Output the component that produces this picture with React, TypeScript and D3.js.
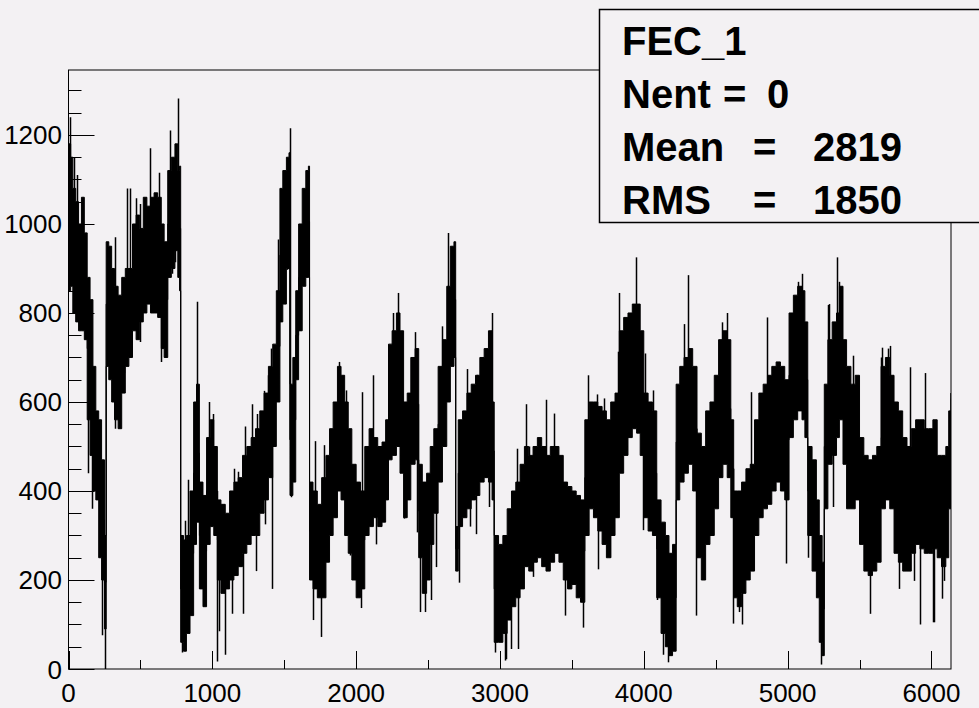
import * as d3 from 'd3';
import React, { useEffect, useRef } from 'react';

// channel position (bin) and the low / high edge of the trace
const binX = [
	0, 15, 30, 50, 70, 90, 110, 130, 150, 170, 190, 210, 230, 250, 262, 280, 300, 320, 345, 370,
	395, 420, 445, 470, 495, 520, 545, 570, 595, 620, 645, 665, 690, 715, 740, 760, 772, 780, 800, 820,
	845, 870, 890, 910, 935, 960, 985, 1010, 1035, 1060, 1090, 1120, 1150, 1180, 1210, 1240, 1270, 1300, 1330, 1360,
	1390, 1420, 1445, 1470, 1490, 1515, 1533, 1540, 1560, 1580, 1600, 1625, 1650, 1668, 1676, 1700, 1730, 1760, 1790, 1815,
	1840, 1870, 1895, 1920, 1945, 1970, 2000, 2030, 2060, 2090, 2120, 2150, 2180, 2205, 2225, 2250, 2280, 2305, 2330, 2355,
	2380, 2410, 2435, 2460, 2490, 2515, 2540, 2570, 2600, 2630, 2655, 2680, 2692, 2710, 2740, 2770, 2800, 2830, 2860, 2890,
	2920, 2945, 2960, 2990, 3020, 3050, 3080, 3110, 3140, 3170, 3200, 3230, 3260, 3290, 3320, 3350, 3380, 3410, 3440, 3470,
	3500, 3530, 3560, 3590, 3620, 3650, 3680, 3710, 3740, 3770, 3800, 3830, 3860, 3890, 3920, 3950, 3975, 4000, 4030, 4060,
	4090, 4120, 4150, 4175, 4200, 4225, 4250, 4280, 4310, 4340, 4370, 4400, 4430, 4460, 4490, 4520, 4550, 4580, 4605, 4625,
	4650, 4680, 4710, 4740, 4770, 4800, 4830, 4860, 4890, 4920, 4950, 4980, 5010, 5040, 5070, 5100, 5120, 5140, 5170, 5200,
	5220, 5240, 5255, 5280, 5310, 5340, 5360, 5385, 5410, 5440, 5470, 5500, 5530, 5560, 5590, 5620, 5650, 5680, 5710, 5740,
	5770, 5800, 5830, 5860, 5890, 5920, 5950, 5980, 6010, 6040, 6070, 6100, 6120, 6136,
];
const bandLo = [
	850, 860, 800, 780, 760, 760, 740, 560, 480, 400, 380, 250, 200, 90, 680, 650, 600, 560, 540, 620,
	680, 700, 760, 740, 780, 800, 820, 800, 800, 790, 720, 700, 880, 900, 940, 880, 850, 60, 40, 80,
	120, 280, 330, 180, 140, 280, 320, 300, 200, 170, 180, 200, 210, 230, 260, 280, 300, 300, 350, 380,
	430, 500, 600, 780, 820, 900, 900, 390, 420, 650, 760, 860, 880, 880, 200, 180, 160, 160, 240, 300,
	340, 400, 380, 300, 260, 200, 160, 180, 300, 320, 340, 320, 330, 380, 470, 480, 500, 440, 340, 380,
	460, 470, 250, 170, 200, 280, 350, 420, 500, 600, 680, 700, 220, 320, 340, 360, 380, 390, 420, 430,
	420, 380, 60, 60, 80, 110, 140, 160, 180, 230, 220, 240, 250, 230, 220, 240, 260, 240, 200, 180,
	190, 160, 150, 300, 360, 340, 310, 280, 250, 300, 340, 440, 480, 520, 540, 530, 480, 340, 310, 300,
	160, 80, 50, 30, 40, 380, 420, 440, 460, 400, 250, 200, 280, 300, 360, 430, 460, 430, 340, 160,
	140, 170, 200, 220, 300, 340, 360, 370, 400, 420, 400, 380, 520, 560, 580, 560, 520, 300, 220, 160,
	60, 30, 360, 460, 480, 520, 560, 460, 360, 360, 380, 280, 220, 210, 220, 240, 360, 380, 360, 260,
	240, 220, 220, 260, 280, 270, 260, 260, 270, 250, 230, 250, 360, 380,
];
const bandHi = [
	1180, 1150, 1080, 1050, 1000, 1060, 980, 880, 830, 680, 580, 560, 470, 300, 960, 950, 900, 860, 840, 880,
	900, 900, 1000, 1020, 990, 1060, 1040, 1060, 1070, 1060, 1000, 960, 1120, 1150, 1180, 1120, 1130, 300, 290, 300,
	400, 600, 640, 420, 390, 520, 560, 500, 380, 370, 350, 400, 420, 430, 480, 500, 520, 540, 580, 620,
	680, 730, 850, 1080, 1120, 1150, 1160, 640, 700, 850, 1000, 1080, 1120, 1130, 420, 400, 370, 430, 480, 540,
	600, 680, 660, 600, 540, 460, 420, 400, 500, 540, 520, 500, 510, 560, 730, 760, 800, 760, 600, 620,
	700, 720, 460, 420, 440, 500, 540, 680, 740, 860, 950, 960, 320, 560, 580, 620, 640, 660, 700, 720,
	760, 600, 300, 280, 300, 360, 400, 420, 460, 500, 480, 500, 520, 500, 480, 500, 500, 480, 420, 410,
	400, 390, 380, 560, 600, 600, 590, 580, 560, 600, 620, 760, 790, 800, 820, 820, 760, 620, 600, 580,
	380, 330, 300, 260, 280, 640, 680, 700, 720, 680, 530, 500, 580, 600, 660, 740, 760, 740, 560, 400,
	400, 420, 450, 460, 560, 620, 640, 660, 680, 690, 680, 650, 800, 840, 860, 850, 780, 500, 470, 380,
	300, 240, 640, 740, 780, 800, 860, 740, 680, 640, 660, 520, 480, 470, 480, 500, 680, 700, 660, 600,
	580, 520, 500, 540, 560, 560, 540, 540, 560, 480, 480, 500, 580, 620,
];

// single-bin spikes that stick out of the band
const spikeX = [
	10, 40, 60, 133, 160, 230, 254, 320, 326, 384, 410, 430, 470, 498, 500, 565, 630, 645, 668, 705,
	720, 740, 743, 762, 788, 808, 830, 895, 976, 1006, 1030, 1045, 1085, 1140, 1150, 1180, 1210, 1225, 1275, 1305,
	1310, 1356, 1365, 1390, 1410, 1415, 1460, 1520, 1540, 1547, 1607, 1700, 1712, 1755, 1775, 1815, 1880, 1927, 1955, 2035,
	2040, 2115, 2140, 2255, 2268, 2290, 2336, 2407, 2420, 2447, 2481, 2523, 2553, 2598, 2640, 2714, 2772, 2795, 2832, 2842,
	2923, 2942, 2965, 3035, 3040, 3080, 3120, 3128, 3180, 3204, 3232, 3320, 3339, 3379, 3450, 3580, 3610, 3675, 3682, 3724,
	3763, 3824, 3830, 3945, 3996, 4010, 4066, 4090, 4136, 4170, 4280, 4310, 4360, 4547, 4580, 4623, 4663, 4680, 4745, 4860,
	4992, 5075, 5100, 5141, 5230, 5283, 5290, 5318, 5345, 5360, 5458, 5570, 5650, 5656, 5700, 5710, 5773, 5854, 5877, 5920,
	5954, 6010, 6017, 6071, 6087, 6134,
];
const spikeY = [
	1240, 1150, 1110, 440, 360, 76, 0, 970, 540, 665, 1080, 1080, 1058, 735, 1045, 1170, 1115, 690, 726, 1210,
	888, 1135, 914, 1282, 37, 333, 425, 825, 600, 573, 17, 85, 32, 124, 450, 443, 124, 545, 595, 220,
	573, 625, 325, 660, 720, 180, 965, 897, 1215, 386, 760, 110, 512, 72, 503, 530, 690, 626, 255, 137,
	622, 660, 280, 800, 745, 845, 338, 757, 307, 128, 128, 155, 229, 770, 980, 194, 674, 320, 303, 661,
	364, 800, 37, 19, 22, 45, 495, 45, 595, 500, 207, 605, 242, 574, 120, 93, 660, 617, 224, 608,
	250, 713, 845, 925, 312, 709, 626, 155, 32, 15, 775, 885, 120, 779, 800, 102, 128, 100, 622, 790,
	237, 870, 888, 250, 10, 818, 820, 364, 925, 870, 704, 124, 700, 722, 720, 726, 180, 678, 198, 100,
	665, 105, 105, 158, 198, 608,
];

const xTicks = [0, 1000, 2000, 3000, 4000, 5000, 6000];
const yTicks = [0, 200, 400, 600, 800, 1000, 1200];

const histName = 'FEC_1';
const statRows = [
	{ label: 'Mean', value: '2819' },
	{ label: 'RMS', value: '1850' },
];
const nentValue = '0';

const W = 979;
const H = 708;
const BG = '#f3f1f3';
const FONT = "'Liberation Sans', Arial, Helvetica, sans-serif";

const App = () => {
	const svgRef = useRef(null);

	useEffect(() => {
		const svg = d3.select(svgRef.current);
		svg.selectAll('*').remove();

		const x = d3.scaleLinear().domain([0, 6136]).range([68.5, 951]);
		const y = d3.scaleLinear().domain([0, 1346]).range([669, 70]);

		svg.append('rect').attr('width', W).attr('height', H).attr('fill', BG);

		svg.append('clipPath').attr('id', 'frameClip')
			.append('rect')
			.attr('x', x(0)).attr('y', y(1346))
			.attr('width', x(6136) - x(0)).attr('height', y(0) - y(1346));

		const pts = binX.map((b, i) => ({ x: b, lo: bandLo[i], hi: bandHi[i] }));
		const g = svg.append('g').attr('clip-path', 'url(#frameClip)');

		const area = d3.area()
			.x((d: any) => x(d.x))
			.y0((d: any) => y(d.lo))
			.y1((d: any) => y(d.hi))
			.curve(d3.curveStepAfter);
		g.append('path').datum(pts).attr('d', area as any)
			.attr('fill', '#000').attr('stroke', '#000').attr('stroke-width', 1);

		// connect consecutive bins like a histogram step line
		const mid = d3.line()
			.x((d: any) => x(d.x))
			.y((d: any) => y((d.lo + d.hi) / 2))
			.curve(d3.curveStepAfter);
		g.append('path').datum(pts).attr('d', mid as any)
			.attr('fill', 'none').attr('stroke', '#000').attr('stroke-width', 1);

		const bis = d3.bisector((d: any) => d.x).right;
		g.selectAll('.spike')
			.data(spikeX.map((s, i) => ({ x: s, v: spikeY[i] })))
			.enter()
			.append('line')
			.attr('x1', (d) => Math.round(x(d.x)) + 0.5)
			.attr('x2', (d) => Math.round(x(d.x)) + 0.5)
			.attr('y1', (d) => y(d.v))
			.attr('y2', (d) => {
				const p = pts[Math.max(0, bis(pts, d.x) - 1)];
				return y((p.lo + p.hi) / 2);
			})
			.attr('stroke', '#000')
			.attr('stroke-width', 1.5);

		// frame
		svg.append('rect')
			.attr('x', x(0)).attr('y', y(1346))
			.attr('width', x(6136) - x(0)).attr('height', y(0) - y(1346))
			.attr('fill', 'none').attr('stroke', '#000').attr('stroke-width', 1);

		// y axis ticks (inside the frame)
		const yMinor = d3.range(0, 1346, 50);
		svg.selectAll('.ytick')
			.data(yMinor)
			.enter()
			.append('line')
			.attr('x1', x(0))
			.attr('x2', (d) => x(0) + (d % 200 === 0 ? 26 : 13))
			.attr('y1', (d) => Math.round(y(d)) + 0.5)
			.attr('y2', (d) => Math.round(y(d)) + 0.5)
			.attr('stroke', '#000');

		svg.selectAll('.ylab')
			.data(yTicks)
			.enter()
			.append('text')
			.attr('x', 62)
			.attr('y', (d) => y(d) + 9.5)
			.attr('text-anchor', 'end')
			.style('font-family', FONT)
			.style('font-size', '26px')
			.text((d) => d);

		// x axis ticks (inside the frame)
		const xMinor = d3.range(0, 6136, 500);
		svg.selectAll('.xtick')
			.data(xMinor)
			.enter()
			.append('line')
			.attr('x1', (d) => Math.round(x(d)) + 0.5)
			.attr('x2', (d) => Math.round(x(d)) + 0.5)
			.attr('y1', y(0))
			.attr('y2', (d) => y(0) - (d % 1000 === 0 ? 18 : 9))
			.attr('stroke', '#000');

		svg.selectAll('.xlab')
			.data(xTicks)
			.enter()
			.append('text')
			.attr('x', (d) => x(d))
			.attr('y', 702)
			.attr('text-anchor', 'middle')
			.style('font-family', FONT)
			.style('font-size', '26px')
			.text((d) => d);

		// statistics box
		svg.append('rect')
			.attr('x', 599.5).attr('y', 9.5)
			.attr('width', 390).attr('height', 213)
			.attr('fill', BG).attr('stroke', '#000').attr('stroke-width', 1.5);

		const stat = (txt: string, tx: number, ty: number) =>
			svg.append('text')
				.attr('x', tx).attr('y', ty)
				.style('font-family', FONT)
				.style('font-weight', 'bold')
				.style('font-size', '40px')
				.text(txt);

		stat(histName, 622, 55);
		stat('Nent', 622, 108);
		stat('=', 723, 108);
		stat(nentValue, 767, 108);
		statRows.forEach((r, i) => {
			const ty = 161 + i * 53;
			stat(r.label, 622, ty);
			stat('=', 753, ty);
			stat(r.value, 813, ty);
		});

		return () => {
			d3.select(svgRef.current).selectAll('*').remove();
		};
	}, []);

	return (
		<svg
			ref={svgRef}
			width={W}
			height={H}
			style={{ position: 'absolute', left: 0, top: 0, display: 'block' }}
		/>
	);
};

export default App;
